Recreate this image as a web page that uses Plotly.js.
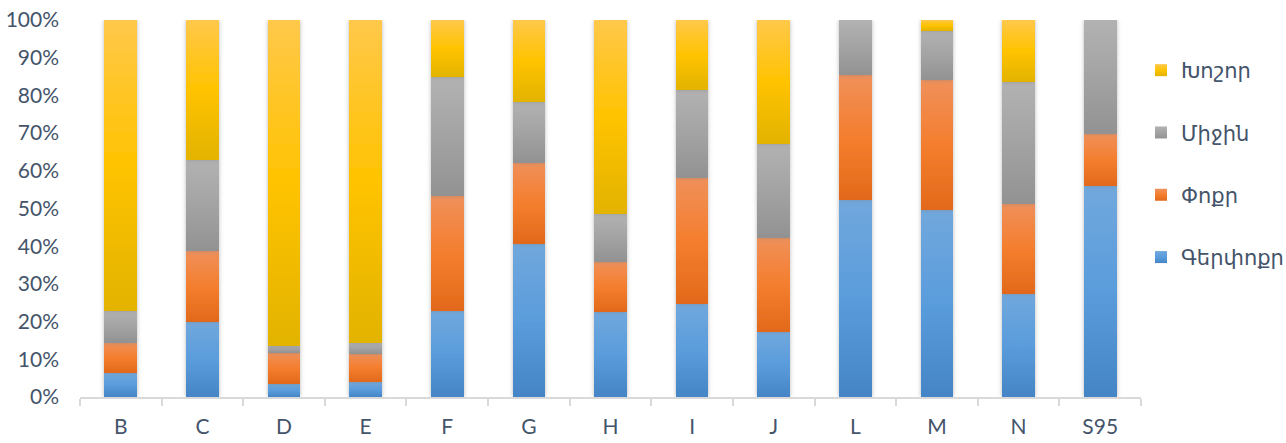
<!DOCTYPE html>
<html>
<head>
<meta charset="utf-8">
<script src="https://cdn.plot.ly/plotly-3.0.1.min.js"></script>
<style>
  html, body { margin: 0; padding: 0; background: #ffffff; }
  #chart { width: 1286px; height: 443px; }
</style>
</head>
<body>
<div id="chart"></div>
<script>
// Categories
const categories = ["B", "C", "D", "E", "F", "G", "H", "I", "J", "L", "M", "N", "S95"];

// Series (percent shares)
const gerpokr = [6.5, 19.9, 3.5, 4.0, 22.9, 40.7, 22.6, 24.7, 17.3, 52.2, 49.6, 27.4, 55.9];   // Գերփոքր
const pokr    = [7.9, 18.7, 8.3, 7.5, 30.3, 21.5, 13.3, 33.4, 25.0, 33.2, 34.4, 23.9, 13.8];   // Փոքր
const mijin   = [8.5, 24.2, 1.8, 2.9, 31.6, 16.1, 12.6, 23.4, 24.9, 14.6, 13.1, 32.3, 30.3];   // Միջին
const khoshor = [77.1, 37.2, 86.4, 85.6, 15.2, 21.7, 51.5, 18.5, 32.8, 0.0, 2.9, 16.4, 0.0];   // Խոշոր

const seriesNames = ["Գերփոքր", "Փոքր", "Միջին", "Խոշոր"];
const seriesValues = [gerpokr, pokr, mijin, khoshor];
const legendRanks = [4, 3, 2, 1];
const baseColors = ["rgb(91, 155, 213)", "rgb(237, 125, 49)", "rgb(165, 165, 165)", "rgb(255, 192, 0)"];
const gradStops = [
  ["#71a8dd", "#5a9cdc", "#4585c5"],
  ["#f0905a", "#f47e2e", "#e2691a"],
  ["#b2b2b2", "#a3a3a3", "#929292"],
  ["#ffc84a", "#ffc300", "#e2b300"]
];

const fontFam = "Lato, 'DejaVu Sans', sans-serif";
const textColor = "#44546a";

const traces = seriesValues.map((vals, i) => ({
  type: "bar",
  name: seriesNames[i],
  x: categories,
  y: vals,
  legendgroup: "g" + i,
  legendrank: legendRanks[i],
  marker: { color: baseColors[i], line: { width: 0 } },
  hoverinfo: "x+y+name"
}));

const layout = {
  width: 1286,
  height: 443,
  paper_bgcolor: "#ffffff",
  plot_bgcolor: "#ffffff",
  margin: { l: 80, r: 145, t: 20, b: 46, pad: 0, autoexpand: false },
  barmode: "stack",
  barnorm: "percent",
  bargap: 0.6,
  showlegend: true,
  font: { family: fontFam, color: textColor, size: 21 },
  legend: {
    x: 1.0, xanchor: "left",
    y: 0.618, yanchor: "middle",
    traceorder: "grouped",
    tracegroupgap: 32,
    font: { family: fontFam, color: textColor, size: 21 },
    bgcolor: "rgba(0,0,0,0)",
    itemwidth: 30
  },
  xaxis: {
    type: "category",
    showline: true,
    linecolor: "#d9d9d9",
    linewidth: 2,
    ticks: "outside",
    tickson: "boundaries",
    ticklen: 7,
    tickwidth: 2,
    tickcolor: "#d9d9d9",
    showgrid: false,
    zeroline: false,
    tickfont: { family: fontFam, color: textColor, size: 21 },
    ticklabelstandoff: 10
  },
  yaxis: {
    range: [0, 100],
    dtick: 10,
    ticksuffix: "%",
    showline: false,
    showgrid: false,
    zeroline: false,
    ticks: "",
    tickfont: { family: fontFam, color: textColor, size: 21 },
    ticklabelstandoff: 20
  }
};

Plotly.newPlot("chart", traces, layout, { displayModeBar: false, staticPlot: true }).then(gd => {
  const svg = gd.querySelector("svg.main-svg");
  const ns = "http://www.w3.org/2000/svg";
  let defs = svg.querySelector("defs");
  if (!defs) { defs = document.createElementNS(ns, "defs"); svg.insertBefore(defs, svg.firstChild); }
  gradStops.forEach((stops, i) => {
    const lg = document.createElementNS(ns, "linearGradient");
    lg.setAttribute("id", "barGrad" + i);
    lg.setAttribute("x1", "0"); lg.setAttribute("y1", "0");
    lg.setAttribute("x2", "0"); lg.setAttribute("y2", "1");
    [[0, stops[0]], [0.5, stops[1]], [1, stops[2]]].forEach(([off, col]) => {
      const st = document.createElementNS(ns, "stop");
      st.setAttribute("offset", off);
      st.setAttribute("stop-color", col);
      lg.appendChild(st);
    });
    defs.appendChild(lg);
  });
  const f = document.createElementNS(ns, "filter");
  f.setAttribute("id", "barShadow");
  f.setAttribute("x", "-30%"); f.setAttribute("y", "-5%");
  f.setAttribute("width", "160%"); f.setAttribute("height", "110%");
  const ds = document.createElementNS(ns, "feDropShadow");
  ds.setAttribute("dx", "0"); ds.setAttribute("dy", "0");
  ds.setAttribute("stdDeviation", "2");
  ds.setAttribute("flood-color", "#7f7f7f");
  ds.setAttribute("flood-opacity", "0.55");
  f.appendChild(ds);
  defs.appendChild(f);

  const allPaths = gd.querySelectorAll(".barlayer path, .legend .legendpoints path");
  allPaths.forEach(p => {
    const fill = p.style.fill;
    const idx = baseColors.indexOf(fill);
    if (idx >= 0) p.style.fill = "url(#barGrad" + idx + ")";
  });
  gd.querySelectorAll(".barlayer .trace.bars").forEach(g => g.setAttribute("filter", "url(#barShadow)"));
});
</script>
</body>
</html>
